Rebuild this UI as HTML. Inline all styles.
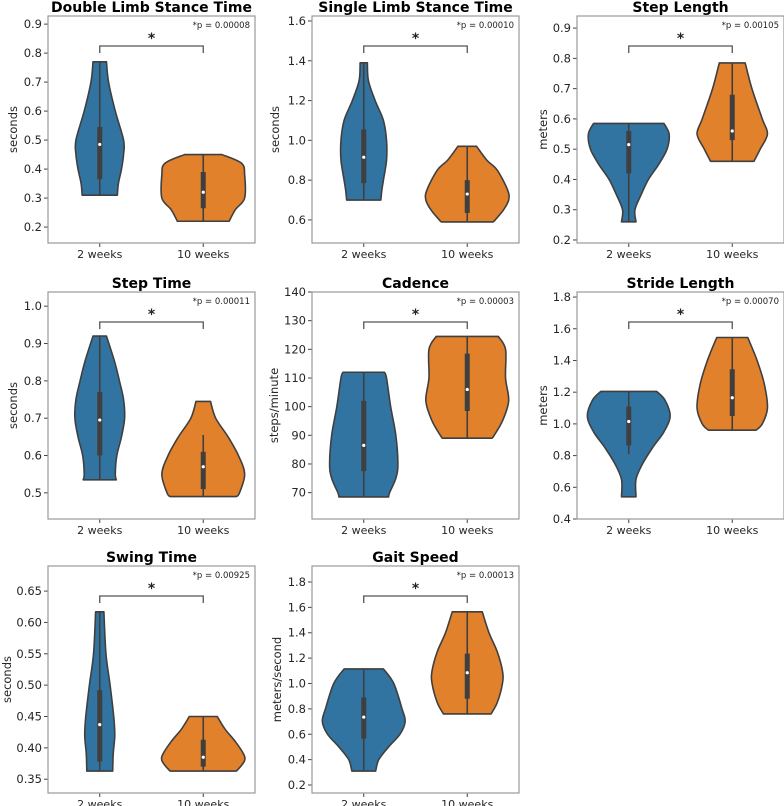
<!DOCTYPE html>
<html><head><meta charset="utf-8">
<style>
html,body{margin:0;padding:0;background:#fff;}
svg{display:block;font-family:"DejaVu Sans","Liberation Sans",sans-serif;}
</style></head>
<body>
<svg id="chart" width="784" height="806" viewBox="0 0 784 806" xmlns="http://www.w3.org/2000/svg"></svg>
<script>
// ---- data ----
const categories = ["2 weeks", "10 weeks"];
const titles = ["Double Limb Stance Time","Single Limb Stance Time","Step Length","Step Time","Cadence","Stride Length","Swing Time","Gait Speed"];
const yLabels = ["seconds","seconds","meters","seconds","steps/minute","meters","seconds","meters/second"];
const pTexts = ["*p = 0.00008","*p = 0.00010","*p = 0.00105","*p = 0.00011","*p = 0.00003","*p = 0.00070","*p = 0.00925","*p = 0.00013"];
const yLims = [[0.145,0.928],[0.484,1.625],[0.19,0.94],[0.430,1.038],[60.8,140.0],[0.40,1.832],[0.328,0.690],[0.137,1.926]];
const yTicks = [
 ["0.2","0.3","0.4","0.5","0.6","0.7","0.8","0.9"],
 ["0.6","0.8","1.0","1.2","1.4","1.6"],
 ["0.2","0.3","0.4","0.5","0.6","0.7","0.8","0.9"],
 ["0.5","0.6","0.7","0.8","0.9","1.0"],
 ["70","80","90","100","110","120","130","140"],
 ["0.4","0.6","0.8","1.0","1.2","1.4","1.6","1.8"],
 ["0.35","0.40","0.45","0.50","0.55","0.60","0.65"],
 ["0.2","0.4","0.6","0.8","1.0","1.2","1.4","1.6","1.8"]
];
// violin profiles: values (y) and half-widths (fraction of category width)
const violinYs = [
 [[0.77,0.7,0.6,0.5,0.45,0.4,0.35,0.31],[0.45,0.42,0.38,0.3,0.26,0.22]],
 [[1.39,1.3,1.2,1.1,1.0,0.9,0.8,0.75,0.70],[0.97,0.9,0.85,0.75,0.7,0.65,0.6,0.59]],
 [[0.585,0.55,0.5,0.45,0.4,0.35,0.3,0.26],[0.785,0.7,0.6,0.55,0.5,0.46]],
 [[0.92,0.85,0.8,0.75,0.7,0.65,0.6,0.55,0.535],[0.745,0.7,0.65,0.6,0.55,0.5,0.49]],
 [[112,110,100,90,80,75,70,68.5],[124.5,120,110,102,95,90,89]],
 [[1.205,1.15,1.05,0.95,0.85,0.75,0.65,0.54],[1.545,1.4,1.25,1.1,1.0,0.96]],
 [[0.617,0.55,0.5,0.45,0.42,0.39,0.363],[0.45,0.43,0.41,0.39,0.38,0.37,0.363]],
 [[1.115,1.0,0.8,0.7,0.6,0.5,0.4,0.31],[1.565,1.4,1.25,1.1,1.0,0.85,0.76]]
];
const violinWs = [
 [[0.065,0.085,0.15,0.23,0.23,0.21,0.18,0.17],[0.18,0.37,0.40,0.40,0.31,0.25]],
 [[0.035,0.045,0.11,0.19,0.22,0.22,0.19,0.175,0.165],[0.09,0.19,0.29,0.39,0.40,0.35,0.27,0.25]],
 [[0.34,0.39,0.37,0.29,0.19,0.12,0.06,0.07],[0.125,0.19,0.29,0.34,0.27,0.21]],
 [[0.065,0.145,0.19,0.23,0.24,0.21,0.165,0.15,0.16],[0.07,0.12,0.24,0.34,0.40,0.35,0.32]],
 [[0.20,0.22,0.26,0.31,0.33,0.31,0.25,0.24],[0.30,0.37,0.37,0.40,0.34,0.26,0.24]],
 [[0.27,0.35,0.40,0.34,0.23,0.135,0.07,0.07],[0.15,0.24,0.31,0.34,0.29,0.23]],
 [[0.04,0.06,0.10,0.135,0.145,0.13,0.125],[0.135,0.21,0.31,0.39,0.40,0.36,0.32]],
 [[0.19,0.29,0.37,0.40,0.35,0.24,0.145,0.115],[0.145,0.21,0.29,0.34,0.34,0.29,0.23]]
];
// box stats: [q1, q3, median, whiskerLow, whiskerHigh]
const boxStats = [
 [[0.365,0.545,0.485,0.31,0.77],[0.265,0.39,0.32,0.22,0.45]],
 [[0.785,1.055,0.915,0.70,1.39],[0.635,0.80,0.73,0.59,0.97]],
 [[0.42,0.56,0.515,0.26,0.585],[0.53,0.68,0.56,0.46,0.785]],
 [[0.60,0.77,0.695,0.535,0.92],[0.51,0.61,0.57,0.49,0.655]],
 [[77.5,102,86.5,68.5,112],[98.5,118.5,106,89,124.5]],
 [[0.865,1.11,1.015,0.81,1.205],[1.05,1.345,1.165,0.96,1.545]],
 [[0.378,0.492,0.437,0.363,0.617],[0.37,0.413,0.385,0.363,0.45]],
 [[0.565,0.89,0.735,0.31,1.115],[0.88,1.235,1.085,0.76,1.565]]
];
const colors = ["#3274a1","#e1812c"];
// ---- layout ----
const colLeft = [48,312,577];
const rowTop = [16,292,566];
const AW = 207, AH = 227;
const ylabX = [[13,275,543],[13,274,543],[7,277,543]];

const NS = "http://www.w3.org/2000/svg";
const svg = document.getElementById("chart");
function mk(tag, attrs, parent, text){
  const e = document.createElementNS(NS, tag);
  for (const k in attrs) e.setAttribute(k, attrs[k]);
  if (text !== undefined) e.textContent = text;
  (parent || svg).appendChild(e);
  return e;
}
function smoothPath(pts){
  let d = "";
  for (let i=0;i<pts.length-1;i++){
    const p0 = pts[Math.max(i-1,0)], p1 = pts[i], p2 = pts[i+1], p3 = pts[Math.min(i+2,pts.length-1)];
    const c1x = p1[0]+(p2[0]-p0[0])/6, c1y = p1[1]+(p2[1]-p0[1])/6;
    const c2x = p2[0]-(p3[0]-p1[0])/6, c2y = p2[1]-(p3[1]-p1[1])/6;
    d += ` C${c1x.toFixed(2)},${c1y.toFixed(2)} ${c2x.toFixed(2)},${c2y.toFixed(2)} ${p2[0].toFixed(2)},${p2[1].toFixed(2)}`;
  }
  return d;
}

for (let p=0;p<titles.length;p++){
  const col = p%3, row = Math.floor(p/3);
  const L = colLeft[col], T = rowTop[row], R = L+AW, B = T+AH;
  const [y0,y1] = yLims[p];
  const yS = v => B - (v-y0)/(y1-y0)*AH;
  const catW = AW/categories.length;
  const xS = i => L + catW*(i+0.5);

  const g = mk("g",{});
  
  

  const title = mk("text",{x:L+AW/2,y:T-4,"text-anchor":"middle","font-size":"14","font-weight":"bold",fill:"#000"},g,titles[p]);
  
  

  yTicks[p].forEach(t=>{
    const y = yS(parseFloat(t));
    const tk = mk("line",{x1:L-4,x2:L,y1:y,y2:y,stroke:"#444","stroke-width":"1"},g);
    
    
    const tl = mk("text",{x:L-6,y:y+4,"text-anchor":"end","font-size":"11.5",fill:"#262626"},g,t);
    
    
  });
  const lx = ylabX[row][col];
  const yl = mk("text",{x:lx,y:(T+B)/2,"text-anchor":"middle","font-size":"11.5",fill:"#262626",transform:`rotate(-90 ${lx} ${(T+B)/2})`,"dominant-baseline":"central"},g,yLabels[p]);
  
  

  categories.forEach((c,i)=>{
    const x = xS(i);
    const tk = mk("line",{x1:x,x2:x,y1:B,y2:B+4,stroke:"#444","stroke-width":"1"},g);
    
    
    const tl = mk("text",{x:x,y:B+15,"text-anchor":"middle","font-size":"11",fill:"#262626"},g,c);
    
    
  });

  categories.forEach((c,i)=>{
    const cx = xS(i);
    const ys = violinYs[p][i], ws = violinWs[p][i];
    const right = ys.map((v,k)=>[cx+ws[k]*catW, yS(v)]);
    const left = ys.map((v,k)=>[cx-ws[k]*catW, yS(v)]).reverse();
    let d = `M${cx},${yS(ys[0])} L${right[0][0]},${right[0][1]}` + smoothPath(right);
    d += ` L${left[0][0]},${left[0][1]}` + smoothPath(left) + " Z";
    const v = mk("path",{d:d,fill:colors[i],stroke:"#3f3f3f","stroke-width":"1.6","stroke-linejoin":"round"},g);
    
    
    const [q1,q3,med,wl,wh] = boxStats[p][i];
    const w = mk("line",{x1:cx,x2:cx,y1:yS(wl),y2:yS(wh),stroke:"#3f3f3f","stroke-width":"1.6"},g);
    
    
    const bx = mk("line",{x1:cx,x2:cx,y1:yS(q1),y2:yS(q3),stroke:"#3f3f3f","stroke-width":"5"},g);
    
    
    const m = mk("circle",{cx:cx,cy:yS(med),r:"1.6",fill:"#fff"},g);
    
    
  });

  const by = T+30, x0 = xS(0), x1b = xS(1);
  const br = mk("path",{d:`M${x0},${by+7} L${x0},${by} L${x1b},${by} L${x1b},${by+7}`,fill:"none",stroke:"#555","stroke-width":"1.3"},g);
  
  
  const st = mk("text",{x:(x0+x1b)/2,y:by-3,"text-anchor":"middle","font-size":"14","font-weight":"bold",fill:"#222"},g,"*");
  
  
  const pt = mk("text",{x:R-5,y:T+12,"text-anchor":"end","font-size":"8.5",fill:"#222"},g,pTexts[p]);
  
  

  const fr = mk("rect",{x:L,y:T,width:AW,height:AH,fill:"none",stroke:"#999","stroke-width":"1.2"},g);
  
  
}
</script>
</body></html>
